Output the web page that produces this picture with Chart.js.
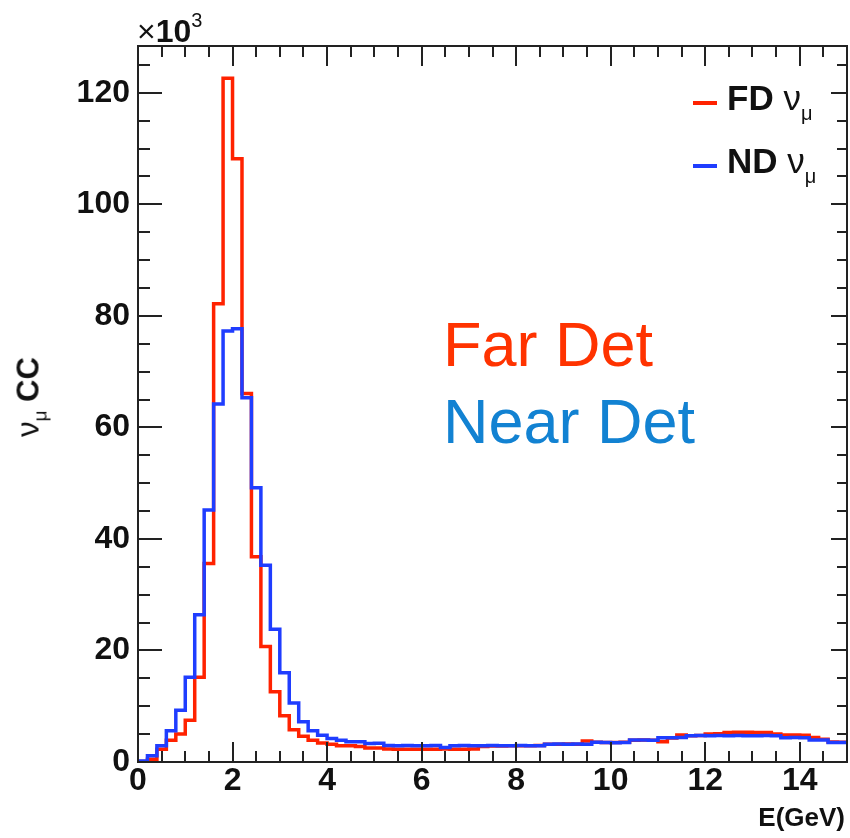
<!DOCTYPE html>
<html>
<head>
<meta charset="utf-8">
<script src="https://cdn.jsdelivr.net/npm/chart.js@4.4.1/dist/chart.umd.min.js"></script>
<style>
  html, body { margin: 0; padding: 0; background: #fff; }
  #wrap { position: relative; width: 850px; height: 838px; font-family: "Liberation Sans", Arial, sans-serif; color: #111; }
  #wrap canvas { position: absolute; left: 0; top: 0; }
  .lbl { position: absolute; white-space: nowrap; line-height: 1; }
  .ind { position: relative; font-weight: normal; }
  .trait { position: absolute; height: 4px; width: 24px; }
</style>
</head>
<body>
<div id="wrap">
  <canvas id="spectre" width="850" height="838"></canvas>

  <div class="lbl" id="mult" style="left:137px; top:15px; font-size:32px;"><span style="font-weight:normal">×</span><b>10</b><span class="ind" style="font-size:20px; top:-15px;">3</span></div>
  <div class="lbl" id="titreX" style="right:5px; top:804px; font-size:26px; font-weight:bold;">E(GeV)</div>
  <div class="lbl" id="titreY" style="left:28px; top:397px; font-size:31px; font-weight:bold; transform:translate(-50%,-50%) rotate(-90deg);"><span style="font-weight:normal">ν</span><span class="ind" style="font-size:19px; top:8px;">μ</span> CC</div>

  <div class="trait" id="traitFD" style="left:693px; top:101px;"></div>
  <div class="lbl" style="left:727px; top:80px; font-size:35px; font-weight:bold;">FD <span style="font-weight:normal">ν</span><span class="ind" style="font-size:20px; top:10px;">μ</span></div>
  <div class="trait" id="traitND" style="left:693px; top:164px;"></div>
  <div class="lbl" style="left:727px; top:143px; font-size:35px; font-weight:bold;">ND <span style="font-weight:normal">ν</span><span class="ind" style="font-size:20px; top:10px;">μ</span></div>

  <div class="lbl" style="left:443px; top:313px; font-size:63px; color:#ff3300;">Far Det</div>
  <div class="lbl" style="left:443px; top:390px; font-size:63px; color:#1282d2;">Near Det</div>
</div>
<script>
// histogrammes en milliers d'evenements, 75 bins de 0.2 GeV entre 0 et 15 GeV
const binLow = 0;
const binWidth = 0.2;

const fdNumu = [
  0.1, 0.5, 2.3, 3.9, 5.0, 7.5, 15.2, 35.6, 82.2, 122.6,
  108.2, 66.1, 36.8, 20.7, 12.6, 8.3, 5.8, 4.6, 3.9, 3.4,
  3.2, 2.9, 2.9, 2.8, 2.5, 2.5, 2.35, 2.3, 2.3, 2.3,
  2.3, 2.3, 2.35, 2.3, 2.3, 2.35, 2.8, 2.85, 2.85, 2.9,
  2.9, 2.9, 2.95, 3.2, 3.2, 3.25, 3.2, 3.75, 3.55, 3.5,
  3.5, 3.55, 3.9, 3.95, 3.9, 3.65, 4.3, 4.85, 4.7, 4.75,
  5.0, 5.05, 5.3, 5.35, 5.35, 5.3, 5.3, 5.0, 4.85, 4.85,
  4.8, 4.4, 4.1, 3.6, 3.55
];

const ndNumu = [
  0.2, 1.1, 2.9, 5.6, 9.3, 15.2, 26.4, 45.2, 64.2, 77.3,
  77.7, 65.3, 49.2, 35.3, 23.8, 16.0, 10.6, 7.2, 5.6, 4.8,
  4.2, 3.9, 3.65, 3.65, 3.3, 3.35, 2.95, 2.9, 2.95, 2.9,
  2.9, 2.95, 2.6, 2.9, 2.95, 2.9, 2.9, 2.95, 2.9, 2.9,
  2.95, 2.9, 2.9, 3.2, 3.25, 3.2, 3.25, 3.2, 3.55, 3.5,
  3.45, 3.5, 3.95, 3.95, 3.9, 4.35, 4.35, 4.4, 4.7, 4.75,
  4.7, 4.75, 4.7, 4.75, 4.7, 4.7, 4.75, 4.7, 4.35, 4.4,
  4.35, 3.95, 3.95, 3.5, 3.5
];

const xTickLabels = [0, 2, 4, 6, 8, 10, 12, 14];
const yTickLabels = [0, 20, 40, 60, 80, 100, 120];

const rouge = "#ff2200";
const bleu = "#1f3dff";
const police = "'Liberation Sans', Arial, sans-serif";

document.getElementById("traitFD").style.background = rouge;
document.getElementById("traitND").style.background = bleu;

// points aux bords gauches des bins + bord droit final, tracés en escalier
function versEscalier(valeurs) {
  const pts = valeurs.map((v, i) => ({x: binLow + i * binWidth, y: v}));
  pts.push({x: binLow + valeurs.length * binWidth, y: valeurs[valeurs.length - 1]});
  return pts;
}

// cadre facon ROOT avec graduations vers l'interieur sur les 4 cotes
const cadreRoot = {
  id: "cadreRoot",
  afterDatasetsDraw(chart) {
    const {ctx, chartArea: a, scales: {x, y}} = chart;
    ctx.save();
    ctx.strokeStyle = "#222";
    ctx.lineWidth = 2;
    ctx.beginPath();
    for (let v = 0; v <= 15; v += 0.5) {
      const px = Math.round(x.getPixelForValue(v));
      const maj = v % 2 === 0;
      ctx.moveTo(px, a.bottom); ctx.lineTo(px, a.bottom - (maj ? 20 : 11));
      ctx.moveTo(px, a.top); ctx.lineTo(px, a.top + (maj ? 20 : 11));
    }
    for (let v = 0; v <= 128; v += 5) {
      const py = Math.round(y.getPixelForValue(v));
      const maj = v % 20 === 0;
      ctx.moveTo(a.left, py); ctx.lineTo(a.left + (maj ? 24 : 12), py);
      ctx.moveTo(a.right, py); ctx.lineTo(a.right - (maj ? 16 : 10), py);
    }
    ctx.stroke();
    ctx.strokeRect(a.left, a.top, a.right - a.left, a.bottom - a.top);
    ctx.restore();
  }
};

new Chart(document.getElementById("spectre"), {
  type: "line",
  data: {
    datasets: [
      {label: "FD", data: versEscalier(fdNumu), borderColor: rouge, borderWidth: 3.5, stepped: "before", pointRadius: 0, fill: false, order: 1},
      {label: "ND", data: versEscalier(ndNumu), borderColor: bleu, borderWidth: 3.5, stepped: "before", pointRadius: 0, fill: false, order: 0}
    ]
  },
  options: {
    responsive: false,
    animation: false,
    devicePixelRatio: 1,
    layout: {padding: {top: 46, right: 3, left: 0, bottom: 0}},
    plugins: {legend: {display: false}, tooltip: {enabled: false}},
    scales: {
      x: {
        type: "linear", min: 0, max: 15,
        grid: {display: false, drawTicks: false},
        border: {display: false},
        ticks: {font: {family: police, size: 32, weight: "bold", lineHeight: 1}, color: "#111", padding: 3, maxRotation: 0, autoSkip: false},
        afterBuildTicks: s => { s.ticks = xTickLabels.map(v => ({value: v})); },
        afterFit: s => { s.height = 76; }
      },
      y: {
        min: 0, max: 128.4,
        grid: {display: false, drawTicks: false},
        border: {display: false},
        ticks: {font: {family: police, size: 32, weight: "bold", lineHeight: 1}, color: "#111", padding: 8, autoSkip: false},
        afterBuildTicks: s => { s.ticks = yTickLabels.map(v => ({value: v})); },
        afterFit: s => { s.width = 138; }
      }
    }
  },
  plugins: [cadreRoot]
});
</script>
</body>
</html>
